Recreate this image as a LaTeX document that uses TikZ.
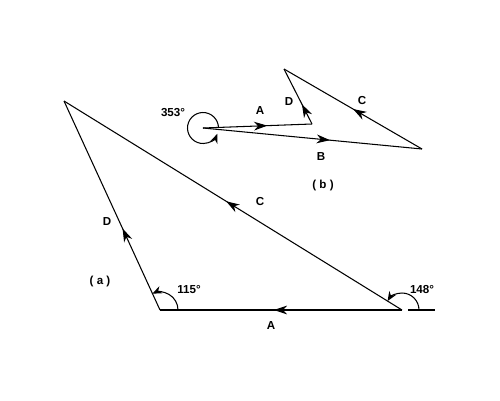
\documentclass[tikz,border=0pt]{standalone}
\usepackage{fontspec}
\setmainfont{Liberation Sans}
\usetikzlibrary{arrows.meta,decorations.markings}

\begin{document}
\begin{tikzpicture}[
        x=0.02cm, y=0.02cm,
        % 向量線樣式
        vec_edge/.style={
            draw=black,
            line width=0.6pt
        },
        % 中段箭頭 (參數 = 位置)
        mid_arrow/.style={
            postaction={decorate},
            decoration={markings,
                mark=at position #1 with {\arrow{Stealth[length=7.6pt,width=5pt,inset=2.4pt]}}}
        },
        % 角度弧
        angle_arc/.style={
            draw=black,
            line width=0.6pt,
            -{Stealth[length=5.4pt,width=4.4pt,inset=1.8pt]}
        },
        % 文字標籤
        tag/.style={
            font=\fontsize{6.6}{8}\selectfont\bfseries,
            inner sep=0pt
        }
    ]
        % 畫布範圍
        \useasboundingbox (0,0) rectangle (500,400);

        % ==========================
        % 圖 (a):三角形
        % ==========================
        \begin{scope}
            % 1. 頂點座標
            \coordinate (a1) at (160,90);
            \coordinate (a2) at (402,90);
            \coordinate (a3) at (64,299);
            \coordinate (e1) at (408,90);
            \coordinate (e2) at (435,90);

            % 2. 三條邊 (中段箭頭)
            \draw[vec_edge, mid_arrow=0.53] (a2) -- (a1);
            \draw[vec_edge, mid_arrow=0.39] (a1) -- (a3);
            \draw[vec_edge, mid_arrow=0.52] (a2) -- (a3);
            \draw[vec_edge] (e1) -- (e2);

            % 3. 角度弧
            \draw[angle_arc] ([shift={(0:18)}]a1) arc[start angle=0, end angle=115, radius=18];
            \draw[angle_arc] ([shift={(0:17)}]a2) arc[start angle=0, end angle=148, radius=17];

            % 4. 標籤
            \node[tag] (la) at (271,74) {A};
            \node[tag] (ld) at (107,178) {D};
            \node[tag] (lc) at (260,198) {C};
            \node[tag] (lang1) at (189,110) {115°};
            \node[tag] (lang2) at (422,110) {148°};
            \node[tag] (capa) at (100,119) {( a )};
        \end{scope}

        % ==========================
        % 圖 (b):向量多邊形
        % ==========================
        \begin{scope}
            % 1. 頂點座標
            \coordinate (o) at (203,272);
            \coordinate (b1) at (312,276);
            \coordinate (b2) at (284,331);
            \coordinate (b3) at (422,251);

            % 2. 向量
            \draw[vec_edge, mid_arrow=0.59] (o) -- (b1);
            \draw[vec_edge, mid_arrow=0.36] (b1) -- (b2);
            \draw[vec_edge, mid_arrow=0.50] (b3) -- (b2);
            \draw[vec_edge, mid_arrow=0.58] (o) -- (b3);

            % 3. 353 度圓弧
            \draw[angle_arc] ([shift={(2:15.5)}]o) arc[start angle=2, end angle=338, radius=15.5];

            % 4. 標籤
            \node[tag] (lba) at (260,289) {A};
            \node[tag] (lbd) at (289,298) {D};
            \node[tag] (lbc) at (362,299) {C};
            \node[tag] (lbb) at (321,243) {B};
            \node[tag] (lang3) at (173,287) {353°};
            \node[tag] (capb) at (323,215) {( b )};
        \end{scope}

    \end{tikzpicture}
\end{document}
